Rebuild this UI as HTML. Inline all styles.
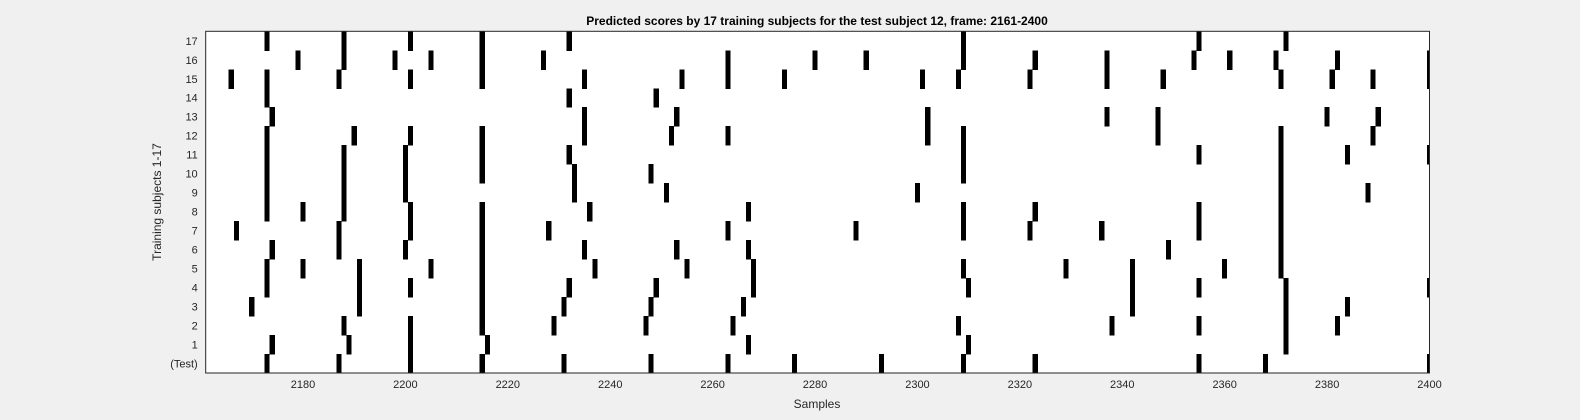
<!DOCTYPE html>
<html><head><meta charset="utf-8"><style>
html,body{margin:0;padding:0;background:#f0f0f0;}
svg{display:block;font-family:"Liberation Sans",Arial,sans-serif;}
</style></head><body>
<svg id="chart" width="1580" height="420" viewBox="0 0 1580 420" xmlns="http://www.w3.org/2000/svg">
<rect x="0" y="0" width="1580" height="420" fill="#f0f0f0"/>
<text x="817" y="25" text-anchor="middle" font-size="12" font-weight="bold" fill="#000">Predicted scores by 17 training subjects for the test subject 12, frame: 2161-2400</text>
<text x="817" y="408" text-anchor="middle" font-size="12" fill="#262626">Samples</text>
<text transform="translate(161,202) rotate(-90)" text-anchor="middle" font-size="12" fill="#262626">Training subjects 1-17</text>
<g id="plot"></g>
</svg>
<script>
const xMin = 2161, xMax = 2400;
const rowLabels = ["(Test)","1","2","3","4","5","6","7","8","9","10","11","12","13","14","15","16","17"];
const xTicks = [2180,2200,2220,2240,2260,2280,2300,2320,2340,2360,2380,2400];
const rowTest = [2173,2187,2201,2215,2231,2248,2263,2276,2293,2309,2323,2355,2368,2400];
const row1 = [2174,2189,2201,2216,2267,2310,2372];
const row2 = [2188,2201,2215,2229,2247,2264,2308,2338,2355,2372,2382];
const row3 = [2170,2191,2215,2231,2248,2266,2342,2372,2384];
const row4 = [2173,2191,2201,2215,2232,2249,2268,2310,2342,2355,2372,2400];
const row5 = [2173,2180,2191,2205,2215,2237,2255,2268,2309,2329,2342,2360,2371];
const row6 = [2174,2187,2200,2215,2235,2253,2267,2349,2371];
const row7 = [2167,2187,2201,2215,2228,2263,2288,2309,2322,2336,2355,2371];
const row8 = [2173,2180,2188,2201,2215,2236,2267,2309,2323,2355,2371];
const row9 = [2173,2188,2200,2233,2251,2300,2371,2388];
const row10 = [2173,2188,2200,2215,2233,2248,2309,2371];
const row11 = [2173,2188,2200,2215,2232,2309,2355,2371,2384,2400];
const row12 = [2173,2190,2201,2215,2235,2252,2263,2302,2309,2347,2371,2389];
const row13 = [2174,2235,2253,2302,2337,2347,2380,2390];
const row14 = [2173,2232,2249];
const row15 = [2166,2173,2187,2201,2215,2235,2254,2263,2274,2301,2308,2322,2337,2348,2371,2381,2389,2400];
const row16 = [2179,2188,2198,2205,2215,2227,2263,2280,2290,2309,2323,2337,2354,2361,2370,2382,2400];
const row17 = [2173,2188,2201,2215,2232,2309,2355,2372];
const rows = [rowTest,row1,row2,row3,row4,row5,row6,row7,row8,row9,row10,row11,row12,row13,row14,row15,row16,row17];

const L = 205.7, R = 1429.5, T = 31.3, B = 373;
const NS = "http://www.w3.org/2000/svg";
const xs = v => L + (v - xMin) / (xMax - xMin) * (R - L);
const rowH = (B - T) / rowLabels.length;
const ys = i => B - (i + 1) * rowH;
const plot = document.getElementById('plot');
function mk(tag, attrs){const e=document.createElementNS(NS,tag);for(const k in attrs)e.setAttribute(k,attrs[k]);return e;}

const bg = mk('rect',{x:L,y:T,width:R-L,height:B-T,fill:'#fff'});


plot.appendChild(bg);

const clip = mk('clipPath',{id:'pc'});
clip.appendChild(mk('rect',{x:L,y:T,width:R-L,height:B-T}));
plot.appendChild(clip);
const marks = mk('g',{'clip-path':'url(#pc)','shape-rendering':'crispEdges'});


plot.appendChild(marks);
const unit = (R - L) / (xMax - xMin);
rows.forEach((arr, i) => {
  arr.forEach(v => {
    const r = mk('rect',{x:xs(v)-unit/2,y:ys(i),width:unit,height:rowH+0.5,fill:'#000'});
    
    
    marks.appendChild(r);
  });
});

const frame = mk('rect',{x:L,y:T,width:R-L,height:B-T,fill:'none',stroke:'#262626','stroke-width':1});


plot.appendChild(frame);

xTicks.forEach(t => {
  const x = xs(t);
  const lb = mk('text',{x:x,y:B+15,'text-anchor':'middle','font-size':11,fill:'#262626'});
  lb.textContent = t;
  
  
  plot.appendChild(lb);
});

rowLabels.forEach((s, i) => {
  const y = ys(i) + rowH / 2;
  const lb = mk('text',{x:L-8,y:y+4,'text-anchor':'end','font-size':11,fill:'#262626'});
  lb.textContent = s;
  
  
  plot.appendChild(lb);
});
</script>
</body></html>
